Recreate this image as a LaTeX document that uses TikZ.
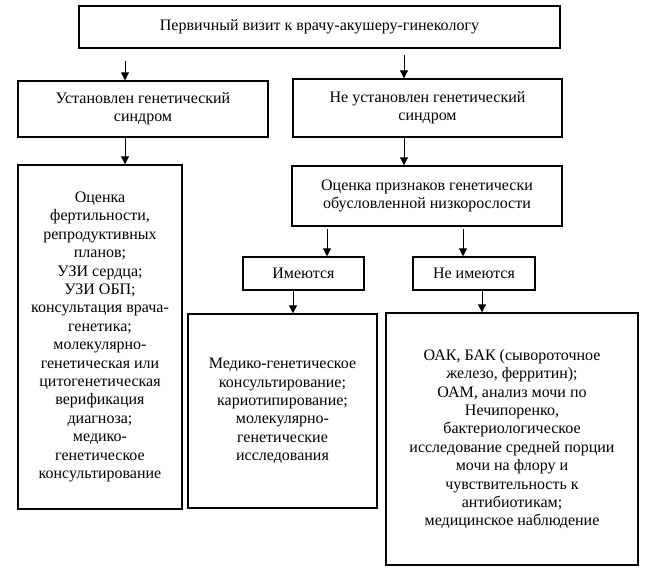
\documentclass[tikz,border=0pt]{standalone}
\usepackage{fontspec}
\setmainfont{Liberation Serif}
\usetikzlibrary{arrows.meta}

\tikzset{
    box/.style={draw, rectangle, line width=1.4pt, align=center, inner sep=0pt,
        font=\fontsize{16}{18.4}\selectfont},
    arr/.style={-{Triangle[length=8pt,width=8pt]}, line width=1pt}
}

\begin{document}
\begin{tikzpicture}[x=1pt,y=-1pt]
    \useasboundingbox (0,0) rectangle (652,571);

    % first visit
    \node[box, minimum width=481pt, minimum height=42pt] (visit) at (319.5,27)
        {Первичный визит к врачу-акушеру-гинекологу};

    % syndrome known / unknown
    \node[box, minimum width=250pt, minimum height=56pt] (known) at (143,109)
        {Установлен генетический\\синдром};
    \node[box, minimum width=269pt, minimum height=58pt] (unknown) at (427.5,108)
        {Не установлен генетический\\синдром};

    % left column
    \node[box, minimum width=164pt, minimum height=344pt] (fert) at (100,337)
        {Оценка\\фертильности,\\репродуктивных\\планов;\\УЗИ сердца;\\УЗИ ОБП;\\консультация врача-\\генетика;\\молекулярно-\\генетическая или\\цитогенетическая\\верификация\\диагноза;\\медико-\\генетическое\\консультирование};

    % right column
    \node[box, minimum width=270pt, minimum height=60pt] (signs) at (427,196)
        {Оценка признаков генетически\\обусловленной низкорослости};
    \node[box, minimum width=121pt, minimum height=33pt] (yes) at (303.5,273.5)
        {Имеются};
    \node[box, minimum width=122pt, minimum height=33pt] (no) at (474,273.5)
        {Не имеются};
    \node[box, minimum width=189pt, minimum height=194pt] (karyo) at (282.5,411)
        {Медико-генетическое\\консультирование;\\кариотипирование;\\молекулярно-\\генетические\\исследования};
    \node[box, minimum width=252pt, minimum height=252pt] (labs) at (512,439)
        {ОАК, БАК (сывороточное\\железо, ферритин);\\ОАМ, анализ мочи по\\Нечипоренко,\\бактериологическое\\исследование средней порции\\мочи на флору и\\чувствительность к\\антибиотикам;\\медицинское наблюдение};

    % arrows
    \coordinate (s1) at (125,61);
    \coordinate (s2) at (404,55);
    \coordinate (s3) at (327,229);
    \coordinate (s4) at (463,229);
    \coordinate (x1) at (293,0);
    \coordinate (x2) at (482,0);
    \draw[arr] (s1) -- (s1 |- known.north);
    \draw[arr] (s2) -- (s2 |- unknown.north);
    \draw[arr] (s1 |- known.south) -- (s1 |- fert.north);
    \draw[arr] (s2 |- unknown.south) -- (s2 |- signs.north);
    \draw[arr] (s3) -- (s3 |- yes.north);
    \draw[arr] (s4) -- (s4 |- no.north);
    \draw[arr] (x1 |- yes.south) -- (x1 |- karyo.north);
    \draw[arr] (x2 |- no.south) -- (x2 |- labs.north);
\end{tikzpicture}
\end{document}
